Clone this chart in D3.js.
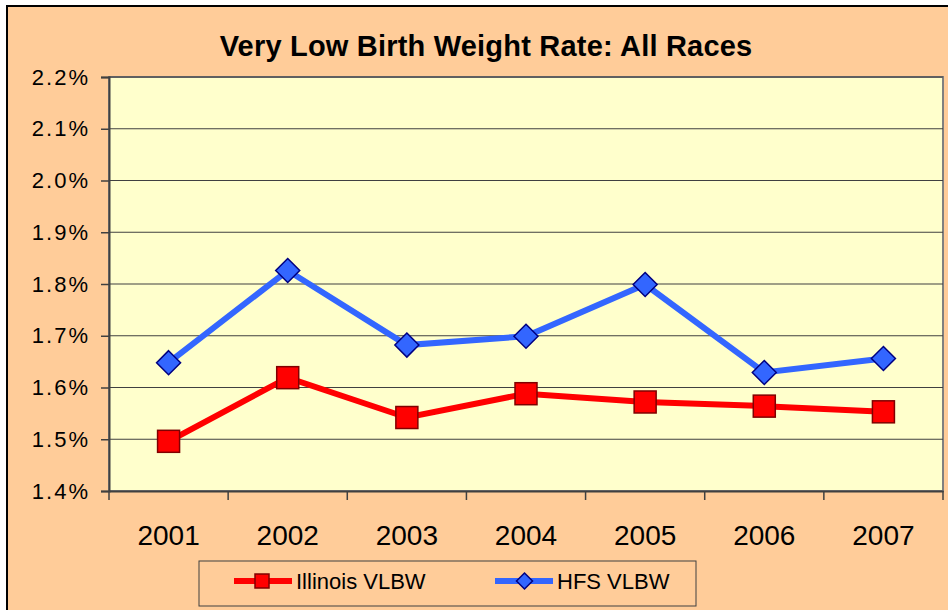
<!DOCTYPE html>
<html><head><meta charset="utf-8">
<script src="https://cdn.jsdelivr.net/npm/d3@7"></script>
<style>html,body{margin:0;padding:0;background:#fff;}svg{display:block;font-family:"Liberation Sans",Arial,sans-serif;}</style>
</head><body>
<script>
const years = ["2001","2002","2003","2004","2005","2006","2007"];
const illinois = [1.496, 1.619, 1.542, 1.588, 1.572, 1.564, 1.553];
const hfs = [1.648, 1.826, 1.682, 1.699, 1.799, 1.629, 1.656];
const yTicks = [1.4, 1.5, 1.6, 1.7, 1.8, 1.9, 2.0, 2.1, 2.2];
const title = "Very Low Birth Weight Rate: All Races";
const seriesNames = ["Illinois VLBW", "HFS VLBW"];

const W = 948, H = 610;
const svg = d3.select("body").append("svg").attr("width", W).attr("height", H);
svg.append("rect").attr("x", 0).attr("y", 0).attr("width", W).attr("height", H).attr("fill", "#fff");
svg.append("rect").attr("x", 7).attr("y", 6).attr("width", W + 10).attr("height", H + 10)
  .attr("fill", "#FFCC99").attr("stroke", "#000").attr("stroke-width", 2);

const L = 109, T = 77, R = 943, B = 491;
const x = d3.scaleBand().domain(years).range([L, R]).padding(0);
const y = d3.scaleLinear().domain([1.4, 2.2]).range([B, T]);

svg.append("rect").attr("x", L).attr("y", T).attr("width", R - L).attr("height", B - T)
  .attr("fill", "#FFFFCC").attr("stroke", "#808080").attr("stroke-width", 2);

// gridlines
svg.append("g").selectAll("line").data(yTicks.slice(1)).join("line")
  .attr("x1", L).attr("x2", R).attr("y1", d => y(d)).attr("y2", d => y(d))
  .attr("stroke", "#404040").attr("stroke-width", 1.2);

// y axis
const yAxis = d3.axisLeft(y).tickValues(yTicks).tickSize(8).tickPadding(11)
  .tickFormat(d => d.toFixed(1) + "%");
const gy = svg.append("g").attr("transform", `translate(${L},0)`).call(yAxis);
gy.select(".domain").attr("stroke", "#404040").attr("stroke-width", 2);
gy.selectAll(".tick line").attr("stroke", "#404040").attr("stroke-width", 1.5);
gy.selectAll("text").attr("font-size", 22).attr("letter-spacing", 2).attr("fill", "#000").attr("font-family", "Liberation Sans, Arial");

// x axis
const xAxis = d3.axisBottom(x).tickSize(0).tickPadding(34);
const gx = svg.append("g").attr("transform", `translate(0,${B})`).call(xAxis);
gx.select(".domain").attr("stroke", "#404040").attr("stroke-width", 2);
gx.selectAll("text").attr("font-size", 28).attr("fill", "#000").attr("font-family", "Liberation Sans, Arial");
// category boundary ticks
const bounds = years.map(d => x(d)).concat([x(years[years.length - 1]) + x.bandwidth()]);
svg.append("g").selectAll("line").data(bounds).join("line")
  .attr("x1", d => d).attr("x2", d => d).attr("y1", B).attr("y2", B + 9)
  .attr("stroke", "#404040").attr("stroke-width", 1.5);

const cx = d => x(d) + x.bandwidth() / 2;
const line = d3.line().x((d, i) => cx(years[i])).y(d => y(d));

// HFS
svg.append("path").datum(hfs).attr("d", line).attr("fill", "none")
  .attr("stroke", "#3366FF").attr("stroke-width", 6).attr("stroke-linejoin", "miter");
// Illinois
svg.append("path").datum(illinois).attr("d", line).attr("fill", "none")
  .attr("stroke", "#FF0000").attr("stroke-width", 6);

const diamond = (s) => `M0,${-s}L${s},0L0,${s}L${-s},0Z`;
svg.append("g").selectAll("path").data(hfs).join("path")
  .attr("d", diamond(12)).attr("transform", (d, i) => `translate(${cx(years[i])},${y(d)})`)
  .attr("fill", "#3366FF").attr("stroke", "#000080").attr("stroke-width", 1.5);
svg.append("g").selectAll("rect").data(illinois).join("rect")
  .attr("x", (d, i) => cx(years[i]) - 11).attr("y", d => y(d) - 11)
  .attr("width", 22).attr("height", 22)
  .attr("fill", "#FF0000").attr("stroke", "#800000").attr("stroke-width", 1.5);

// title
svg.append("text").attr("x", 486).attr("y", 56).attr("text-anchor", "middle")
  .attr("font-size", 29).attr("font-weight", "bold").attr("letter-spacing", 0.2).attr("fill", "#000").text(title);

// legend
svg.append("rect").attr("x", 199).attr("y", 561).attr("width", 497).attr("height", 45)
  .attr("fill", "#FFCC99").attr("stroke", "#404040").attr("stroke-width", 1);
const ly = 581;
svg.append("line").attr("x1", 234).attr("x2", 292).attr("y1", ly).attr("y2", ly)
  .attr("stroke", "#FF0000").attr("stroke-width", 6);
svg.append("rect").attr("x", 255).attr("y", ly - 7).attr("width", 14).attr("height", 14)
  .attr("fill", "#FF0000").attr("stroke", "#800000").attr("stroke-width", 1.5);
svg.append("text").attr("x", 296).attr("y", ly + 8).attr("font-size", 22).attr("fill", "#000").text(seriesNames[0]);
svg.append("line").attr("x1", 495).attr("x2", 553).attr("y1", ly).attr("y2", ly)
  .attr("stroke", "#3366FF").attr("stroke-width", 6);
svg.append("path").attr("d", diamond(8)).attr("transform", `translate(524.5,${ly})`)
  .attr("fill", "#3366FF").attr("stroke", "#000080").attr("stroke-width", 1.5);
svg.append("text").attr("x", 557).attr("y", ly + 8).attr("font-size", 22).attr("fill", "#000").text(seriesNames[1]);
</script>
</body></html>
